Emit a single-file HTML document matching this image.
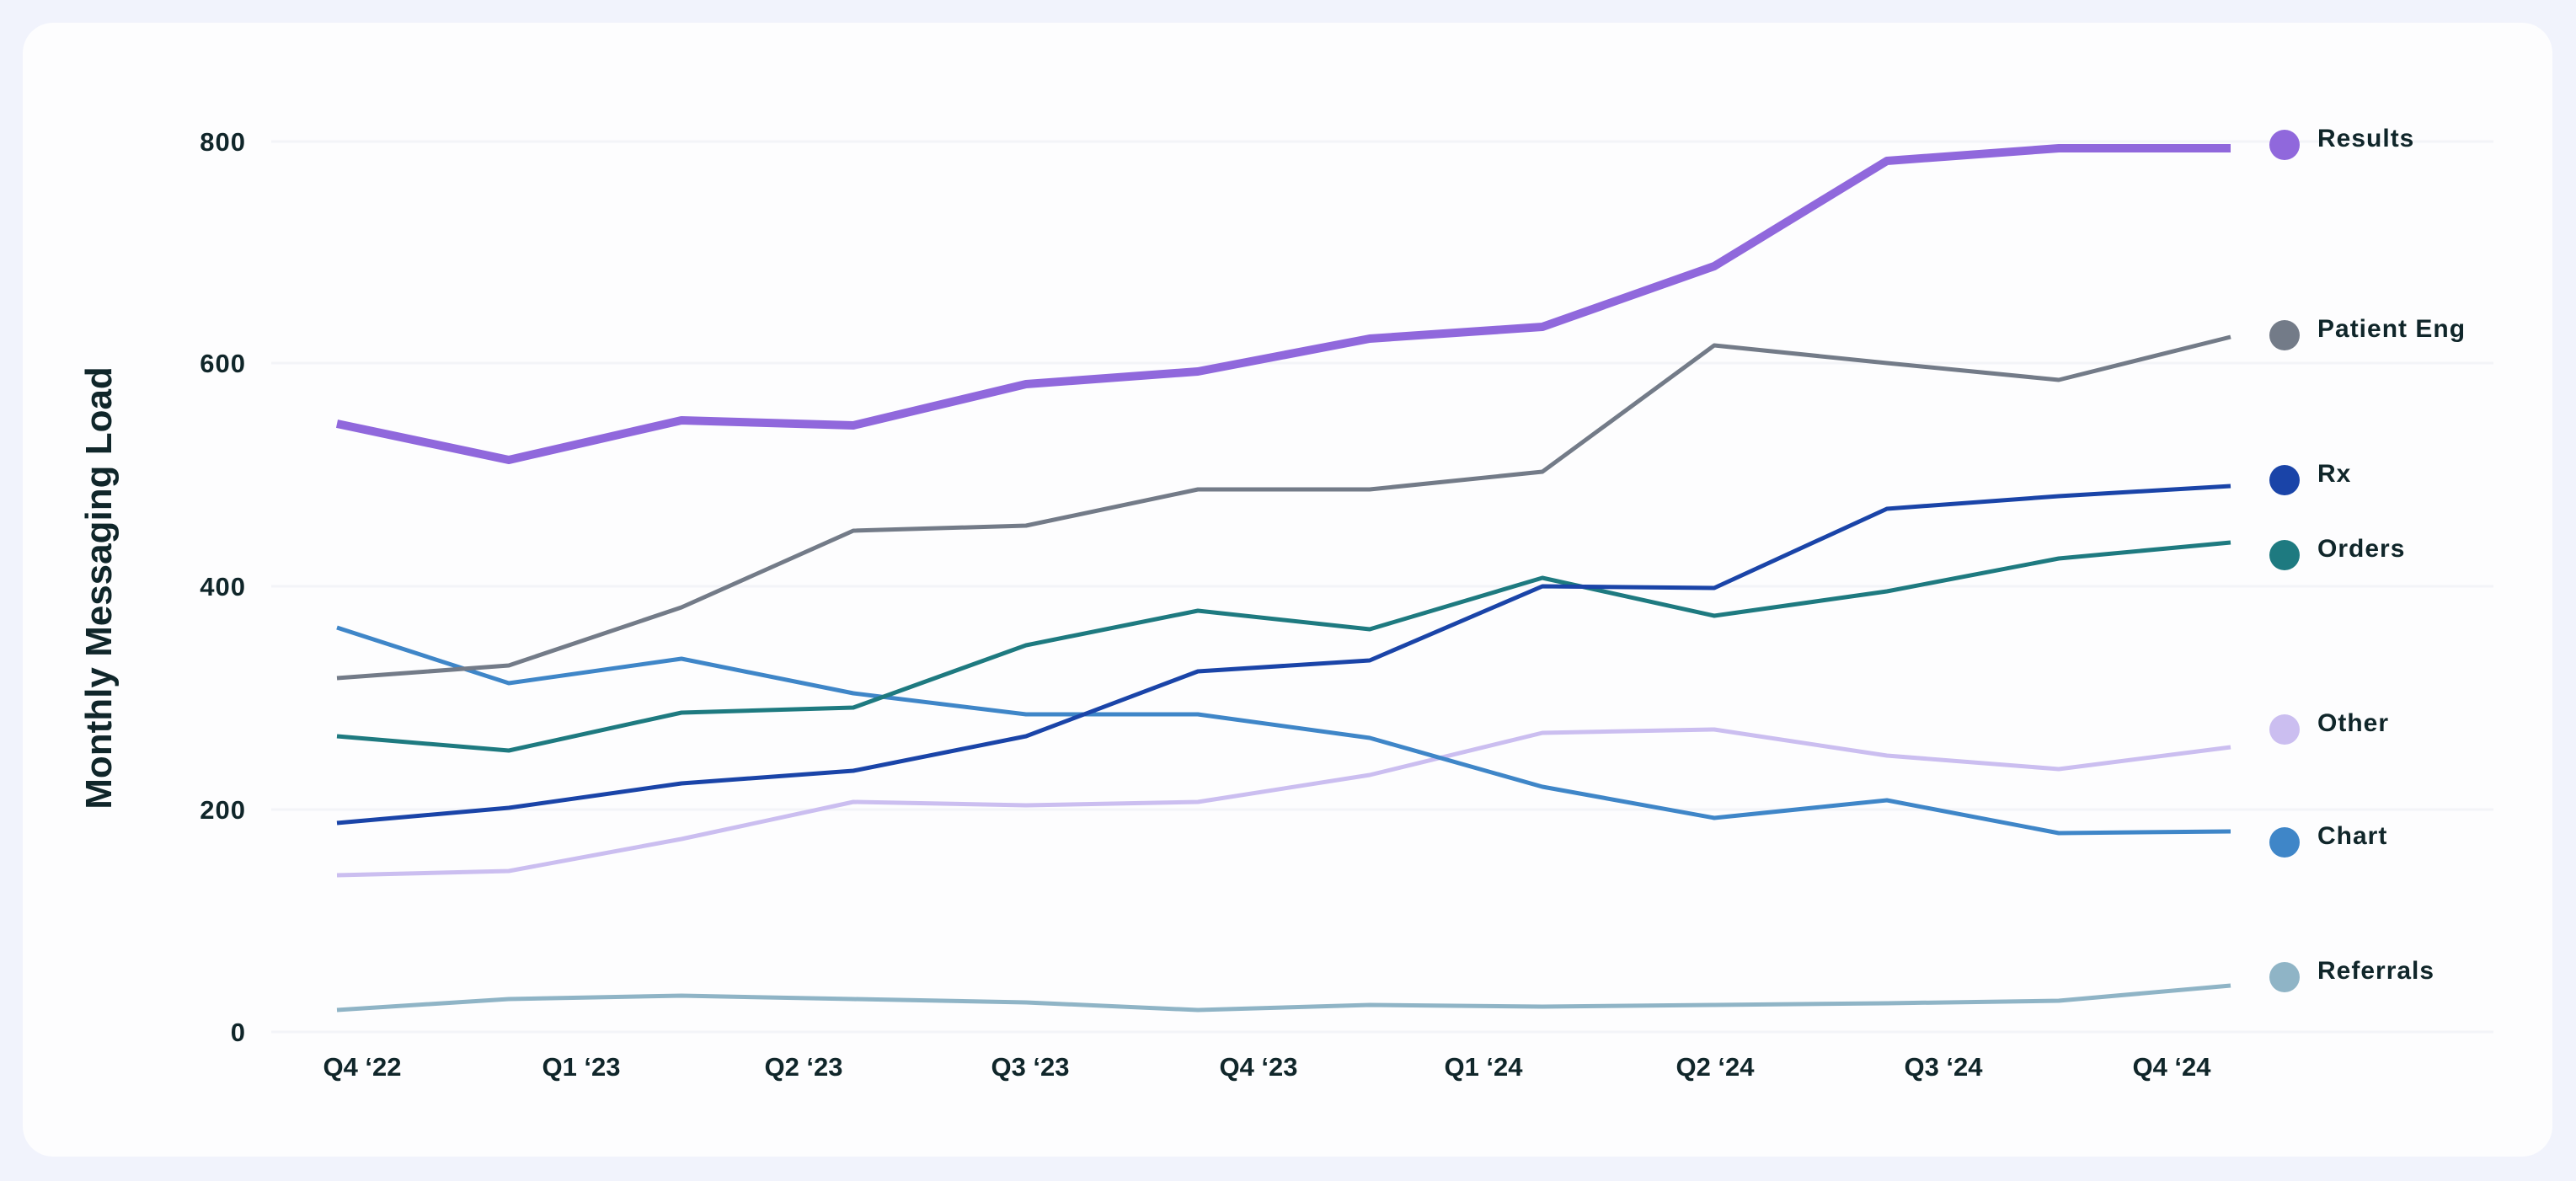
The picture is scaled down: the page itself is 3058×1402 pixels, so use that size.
<!DOCTYPE html>
<html><head><meta charset="utf-8"><style>
html,body{margin:0;padding:0;background:#F1F3FC;}
body{width:3058px;height:1402px;overflow:hidden;position:relative;}
.card{position:absolute;left:27px;top:27px;width:3003px;height:1346px;background:#FDFDFE;border-radius:36px;}
svg{position:absolute;left:0;top:0;}
text{font-family:"Liberation Sans",sans-serif;fill:#10262A;}
</style></head><body>
<div class="card"></div>
<svg width="3058" height="1402" viewBox="0 0 3058 1402">
<g stroke="#F3F4F8" stroke-width="3">
<line x1="322" x2="2960" y1="168" y2="168"/>
<line x1="322" x2="2960" y1="431" y2="431"/>
<line x1="322" x2="2960" y1="696" y2="696"/>
<line x1="322" x2="2960" y1="961" y2="961"/>
<line x1="322" x2="2960" y1="1225" y2="1225"/>
</g>
<g font-size="31" font-weight="bold" text-anchor="end" letter-spacing="1">
<text x="292" y="179">800</text>
<text x="292" y="442">600</text>
<text x="292" y="707">400</text>
<text x="292" y="972">200</text>
<text x="292" y="1236">0</text>
</g>
<text x="117" y="713" font-size="44" font-weight="bold" text-anchor="middle" transform="rotate(-90 117 698)">Monthly Messaging Load</text>
<g font-size="31" font-weight="bold" text-anchor="middle">
<text x="430" y="1277">Q4 ‘22</text>
<text x="690" y="1277">Q1 ‘23</text>
<text x="954" y="1277">Q2 ‘23</text>
<text x="1223" y="1277">Q3 ‘23</text>
<text x="1494" y="1277">Q4 ‘23</text>
<text x="1761" y="1277">Q1 ‘24</text>
<text x="2036" y="1277">Q2 ‘24</text>
<text x="2307" y="1277">Q3 ‘24</text>
<text x="2578" y="1277">Q4 ‘24</text>
</g>
<g fill="none" stroke-linejoin="round" stroke-linecap="butt">
<polyline stroke="#8FB4C6" stroke-width="5" points="400,1199 604,1186 809,1182 1013,1186 1218,1190 1422,1199 1626,1193 1831,1195 2035,1193 2240,1191 2444,1188 2648,1170"/>
<polyline stroke="#CBBEF0" stroke-width="5" points="400,1039 604,1034 809,996 1013,952 1218,956 1422,952 1626,920 1831,870 2035,866 2240,897 2444,913 2648,887"/>
<polyline stroke="#3F86C8" stroke-width="5" points="400,745 604,811 809,782 1013,823 1218,848 1422,848 1626,876 1831,934 2035,971 2240,950 2444,989 2648,987"/>
<polyline stroke="#1E7A80" stroke-width="5" points="400,874 604,891 809,846 1013,840 1218,766 1422,725 1626,747 1831,686 2035,731 2240,702 2444,663 2648,644"/>
<polyline stroke="#1A44A8" stroke-width="5" points="400,977 604,959 809,930 1013,915 1218,874 1422,797 1626,784 1831,696 2035,698 2240,604 2444,589 2648,577"/>
<polyline stroke="#737B88" stroke-width="5" points="400,805 604,790 809,721 1013,630 1218,624 1422,581 1626,581 1831,560 2035,410 2240,431 2444,451 2648,400"/>
<polyline stroke="#9068DC" stroke-width="10" points="400,503 604,546 809,499 1013,505 1218,456 1422,441 1626,402 1831,388 2035,316 2240,191 2444,176 2648,176"/>
</g>
<g>
<circle cx="2712" cy="172" r="18" fill="#9068DC"/>
<circle cx="2712" cy="398" r="18" fill="#737B88"/>
<circle cx="2712" cy="570" r="18" fill="#1A44A8"/>
<circle cx="2712" cy="659" r="18" fill="#1E7A80"/>
<circle cx="2712" cy="866" r="18" fill="#CBBEF0"/>
<circle cx="2712" cy="1000" r="18" fill="#3F86C8"/>
<circle cx="2712" cy="1160" r="18" fill="#8FB4C6"/>
</g>
<g font-size="30" font-weight="bold" letter-spacing="1">
<text x="2751" y="174">Results</text>
<text x="2751" y="400">Patient Eng</text>
<text x="2751" y="572">Rx</text>
<text x="2751" y="661">Orders</text>
<text x="2751" y="868">Other</text>
<text x="2751" y="1002">Chart</text>
<text x="2751" y="1162">Referrals</text>
</g>
</svg>
</body></html>
